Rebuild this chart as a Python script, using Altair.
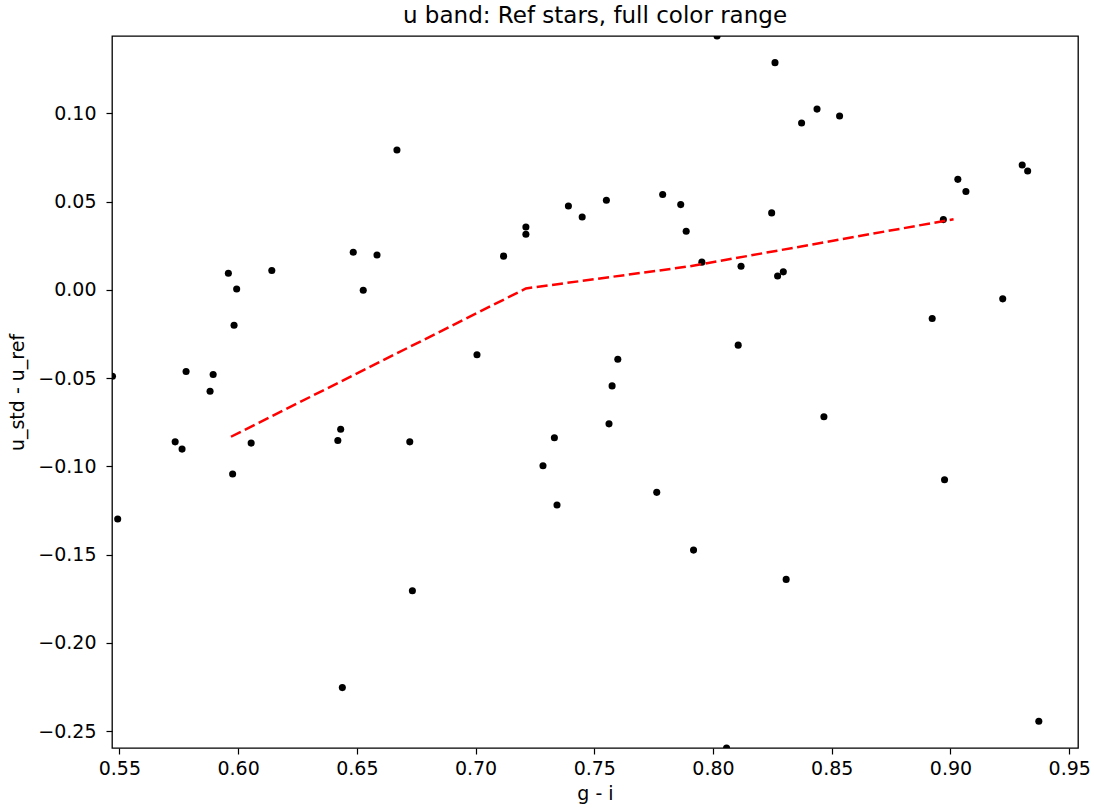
import altair as alt
import pandas as pd

# Scatter data: g - i colour vs u_std - u_ref
gi = [0.6669, 0.5959, 0.6142, 0.6485, 0.6585, 0.8017, 0.8261, 0.7118, 0.7212, 0.7212,
      0.7391, 0.7449, 0.7551, 0.7788, 0.7864, 0.7887, 0.7953, 0.8118, 0.8247, 0.8272,
      0.8296, 0.8373, 0.8438, 0.8533, 0.9031, 0.9065, 0.9302, 0.9325, 0.8970, 0.5994,
      0.6527, 0.5983, 0.5471, 0.5781, 0.5895, 0.5882, 0.5735, 0.5764, 0.6055, 0.6420,
      0.6432, 0.6723, 0.5977, 0.5493, 0.7006, 0.7599, 0.7575, 0.7562, 0.7332, 0.7284,
      0.7343, 0.7763, 0.8106, 0.9220, 0.8923, 0.8467, 0.8975, 0.6734, 0.6439, 0.7918,
      0.8308, 0.8057, 0.9372]
du = [0.0792, 0.0094, 0.0110, 0.0213, 0.0198, 0.1438, 0.1287, 0.0191, 0.0356, 0.0315,
      0.0475, 0.0413, 0.0508, 0.0540, 0.0483, 0.0332, 0.0157, 0.0134, 0.0436, 0.0079,
      0.0102, 0.0945, 0.1024, 0.0985, 0.0626, 0.0557, 0.0707, 0.0673, 0.0398, 0.0005,
      -0.0002, -0.0200, -0.0489, -0.0462, -0.0479, -0.0574, -0.0861, -0.0902, -0.0868, -0.0853,
      -0.0789, -0.0861, -0.1043, -0.1298, -0.0368, -0.0393, -0.0544, -0.0759, -0.0838, -0.0996,
      -0.1219, -0.1147, -0.0313, -0.0051, -0.0162, -0.0719, -0.1076, -0.1704, -0.2253, -0.1474,
      -0.1640, -0.2595, -0.2443]

# Red dashed fit line knots
fit_x = [0.5970, 0.7212, 0.7900, 0.9013]
fit_y = [-0.0832, 0.0008, 0.0133, 0.0400]

x_ticks = [0.55, 0.60, 0.65, 0.70, 0.75, 0.80, 0.85, 0.90, 0.95]
y_ticks = [-0.25, -0.20, -0.15, -0.10, -0.05, 0.00, 0.05, 0.10]

x_domain = [0.5469, 0.9537]
y_domain = [-0.2595, 0.1438]

pts = pd.DataFrame({"gi": gi, "du": du})
fit = pd.DataFrame({"gi": fit_x, "du": fit_y, "order": list(range(len(fit_x)))})

FONT = "DejaVu Sans"

xscale = alt.Scale(domain=x_domain, nice=False, zero=False)
yscale = alt.Scale(domain=y_domain, nice=False, zero=False)

xaxis = alt.Axis(title="g - i", values=x_ticks, format=".2f", grid=False,
                 domain=False, tickSize=6, tickWidth=1.2, tickColor="black",
                 labelFont=FONT, labelFontSize=19, labelColor="black", labelPadding=5,
                 labelFlush=False, labelOverlap=False, labelBound=False,
                 titleFont=FONT, titleFontSize=19, titleFontWeight="normal",
                 titleColor="black", titlePadding=6)
yaxis = alt.Axis(title="u_std - u_ref", values=y_ticks, format=".2f", grid=False,
                 domain=False, tickSize=6, tickWidth=1.2, tickColor="black",
                 labelFont=FONT, labelFontSize=19, labelColor="black", labelPadding=10,
                 labelFlush=False, labelOverlap=False, labelBound=False,
                 titleFont=FONT, titleFontSize=19, titleFontWeight="normal",
                 titleColor="black", titlePadding=10)

points = alt.Chart(pts).mark_circle(size=50, color="black", opacity=1, clip=True).encode(
    x=alt.X("gi:Q", scale=xscale, axis=xaxis),
    y=alt.Y("du:Q", scale=yscale, axis=yaxis),
)

line = alt.Chart(fit).mark_line(color="red", strokeWidth=2.5, strokeDash=[11, 4.5], clip=True).encode(
    x=alt.X("gi:Q", scale=xscale),
    y=alt.Y("du:Q", scale=yscale),
    order="order:Q",
)

chart = alt.layer(points, line).properties(
    width=966,
    height=712,
    background="white",
    title=alt.TitleParams("u band: Ref stars, full color range", font=FONT, fontSize=23,
                          fontWeight="normal", color="black", anchor="middle", offset=8),
    autosize=alt.AutoSizeParams(type="none"),
    padding={"left": 112, "top": 36, "right": 16, "bottom": 63},
).configure_view(
    stroke="black", strokeWidth=1.3
)

chart.save("out.html", embed_options={"renderer": "svg", "actions": False})
